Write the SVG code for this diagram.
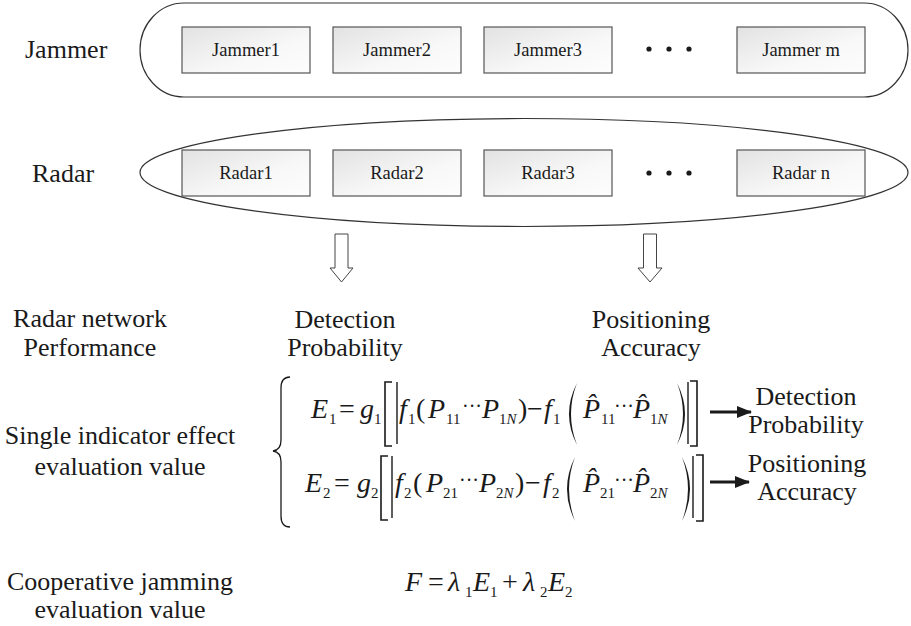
<svg xmlns="http://www.w3.org/2000/svg" width="911" height="626" viewBox="0 0 911 626" font-family="'Liberation Serif', 'DejaVu Serif', serif">
<style>
text{font-family:"Liberation Serif","DejaVu Serif",serif;fill:#1a1a1a}
.lbl{font-size:26px}
.c{text-anchor:middle}
.box{fill:url(#bg);stroke:#555;stroke-width:1.2}
.bt{font-size:18.5px;text-anchor:middle}
.ct{fill:none;stroke:#333;stroke-width:1.2}
.it{font-style:italic;font-size:28px}
.rm{font-size:28px}
.dt{font-size:20px}
.sb{font-size:15px}
.si{font-size:15px;font-style:italic}
.br{fill:none;stroke:#1a1a1a;stroke-width:1.6}
.bar{stroke:#1a1a1a;stroke-width:1.4}
.pa{fill:#1a1a1a;stroke:none}
.ha{fill:#fff;stroke:#444;stroke-width:1}
.dot{fill:#1a1a1a}
</style>
<defs>
<linearGradient id="bg" x1="0" y1="0" x2="1" y2="1">
<stop offset="0" stop-color="#e2e2e2"/>
<stop offset="0.6" stop-color="#f8f8f8"/>
<stop offset="1" stop-color="#fdfdfd"/>
</linearGradient>
<marker id="ah" markerUnits="userSpaceOnUse" markerWidth="16" markerHeight="14" refX="14" refY="7" orient="auto">
<path d="M0,1 L15,7 L0,13 Z" fill="#1a1a1a"/>
</marker>
</defs>

<g id="row-labels">
<text class="lbl" x="25" y="58">Jammer</text>
<text class="lbl" x="32" y="182">Radar</text>
<text class="lbl c" x="90" y="327">Radar network</text>
<text class="lbl c" x="90" y="356">Performance</text>
<text class="lbl c" x="120" y="444">Single indicator effect</text>
<text class="lbl c" x="120" y="475">evaluation value</text>
<text class="lbl c" x="120" y="590">Cooperative jamming</text>
<text class="lbl c" x="120" y="618">evaluation value</text>
</g>

<g id="jammer-group">
<rect class="ct" x="140" y="3" width="768" height="94" rx="44" ry="47"/>
</g>
<g id="jammer1"><rect class="box" x="182" y="27" width="128" height="46"/><text class="bt" x="246" y="56">Jammer1</text></g>
<g id="jammer2"><rect class="box" x="333" y="27" width="128" height="46"/><text class="bt" x="397" y="56">Jammer2</text></g>
<g id="jammer3"><rect class="box" x="484" y="27" width="128" height="46"/><text class="bt" x="548" y="56">Jammer3</text></g>
<g id="jammer-dots"><circle class="dot" cx="649" cy="49" r="2.6"/><circle class="dot" cx="669" cy="49" r="2.6"/><circle class="dot" cx="689" cy="49" r="2.6"/></g>
<g id="jammerm"><rect class="box" x="737" y="27" width="128" height="46"/><text class="bt" x="801" y="56">Jammer m</text></g>

<g id="radar-group">
<ellipse class="ct" cx="524" cy="172.5" rx="384" ry="54"/>
</g>
<g id="radar1"><rect class="box" x="182" y="150" width="128" height="46"/><text class="bt" x="246" y="179">Radar1</text></g>
<g id="radar2"><rect class="box" x="333" y="150" width="128" height="46"/><text class="bt" x="397" y="179">Radar2</text></g>
<g id="radar3"><rect class="box" x="484" y="150" width="128" height="46"/><text class="bt" x="548" y="179">Radar3</text></g>
<g id="radar-dots"><circle class="dot" cx="649" cy="173" r="2.6"/><circle class="dot" cx="669" cy="173" r="2.6"/><circle class="dot" cx="689" cy="173" r="2.6"/></g>
<g id="radarn"><rect class="box" x="737" y="150" width="128" height="46"/><text class="bt" x="801" y="179">Radar n</text></g>

<g id="connectors">
<path class="ha" d="M335,234 H348 V268 H353 L341.5,282 L330,268 H335 Z"/>
<path class="ha" d="M643.5,234 H656.5 V268 H662 L650,282 L638,268 H643.5 Z"/>
<line x1="710" y1="412" x2="751" y2="412" stroke="#1a1a1a" stroke-width="3.2" marker-end="url(#ah)"/>
<line x1="710" y1="482" x2="749" y2="482" stroke="#1a1a1a" stroke-width="3.2" marker-end="url(#ah)"/>
</g>

<g id="detection">
<text class="lbl c" x="345" y="328">Detection</text>
<text class="lbl c" x="345" y="356">Probability</text>
</g>
<g id="positioning">
<text class="lbl c" x="651" y="328">Positioning</text>
<text class="lbl c" x="651" y="356">Accuracy</text>
</g>

<g id="brace">
<path class="br" style="stroke-width:1.3" d="M290,377 Q281,377 281,388 L281,440 Q281,450 273,451 Q281,452 281,462 L281,516 Q281,527 290,527"/>
</g>

<g id="eq-e1">
<text class="it" x="311" y="418">E</text><text class="sb" x="329" y="424">1</text>
<text class="rm" x="339" y="418">=</text>
<text class="it" x="360" y="418">g</text><text class="sb" x="374" y="424">1</text>
<path class="br" d="M392,382 H385 V446 H392"/>
<line class="bar" x1="397" y1="382" x2="397" y2="444"/>
<text class="it" x="399" y="418">f</text><text class="sb" x="408" y="424">1</text>
<text class="rm" x="416" y="418">(</text>
<text class="it" x="428" y="418">P</text><text class="sb" x="446" y="424">11</text>
<text class="dt" x="462" y="413">···</text>
<text class="it" x="482" y="418">P</text><text class="sb" x="499" y="424">1<tspan class="si">N</tspan></text>
<text class="rm" x="518" y="418">)</text>
<text class="rm" x="527" y="418">−</text>
<text class="it" x="544" y="418">f</text><text class="sb" x="553" y="424">1</text>
<path class="pa" d="M577,383 Q561,414 577,445 Q565,414 577,383 Z"/>
<text class="it" x="583" y="418">P&#x302;</text><text class="sb" x="601" y="424">11</text>
<text class="dt" x="614" y="413">···</text>
<text class="it" x="633" y="418">P&#x302;</text><text class="sb" x="650" y="424">1<tspan class="si">N</tspan></text>
<path class="pa" d="M677,383 Q693,414 677,445 Q689,414 677,383 Z"/>
<line class="bar" x1="688" y1="382" x2="688" y2="444"/>
<path class="br" d="M690,381 H697 V446 H690"/>
</g>

<g id="eq-e2">
<text class="it" x="305" y="492">E</text><text class="sb" x="323" y="498">2</text>
<text class="rm" x="334" y="492">=</text>
<text class="it" x="357" y="492">g</text><text class="sb" x="371" y="498">2</text>
<path class="br" d="M388,456 H381 V520 H388"/>
<line class="bar" x1="392" y1="456" x2="392" y2="518"/>
<text class="it" x="395" y="492">f</text><text class="sb" x="404" y="498">2</text>
<text class="rm" x="413" y="492">(</text>
<text class="it" x="426" y="492">P</text><text class="sb" x="443" y="498">21</text>
<text class="dt" x="459" y="487">···</text>
<text class="it" x="479" y="492">P</text><text class="sb" x="496" y="498">2<tspan class="si">N</tspan></text>
<text class="rm" x="515" y="492">)</text>
<text class="rm" x="525" y="492">−</text>
<text class="it" x="543" y="492">f</text><text class="sb" x="552" y="498">2</text>
<path class="pa" d="M575,457 Q559,489 575,521 Q563,489 575,457 Z"/>
<text class="it" x="583" y="492">P&#x302;</text><text class="sb" x="600" y="498">21</text>
<text class="dt" x="614" y="487">···</text>
<text class="it" x="633" y="492">P&#x302;</text><text class="sb" x="650" y="498">2<tspan class="si">N</tspan></text>
<path class="pa" d="M682,457 Q698,489 682,521 Q694,489 682,457 Z"/>
<line class="bar" x1="693" y1="456" x2="693" y2="518"/>
<path class="br" d="M696,455 H703 V521 H696"/>
</g>

<g id="result-labels">
<text class="lbl c" x="806" y="405">Detection</text>
<text class="lbl c" x="806" y="433">Probability</text>
<text class="lbl c" x="807" y="472">Positioning</text>
<text class="lbl c" x="807" y="500">Accuracy</text>
</g>

<g id="eq-f">
<text class="it" x="405" y="591">F</text>
<text class="rm" x="428" y="591">=</text>
<text class="it" x="448" y="591">λ</text><text class="sb" x="465" y="597">1</text>
<text class="it" x="473" y="591">E</text><text class="sb" x="490" y="597">1</text>
<text class="rm" x="502" y="591">+</text>
<text class="it" x="523" y="591">λ</text><text class="sb" x="540" y="597">2</text>
<text class="it" x="548" y="591">E</text><text class="sb" x="565" y="597">2</text>
</g>
</svg>
